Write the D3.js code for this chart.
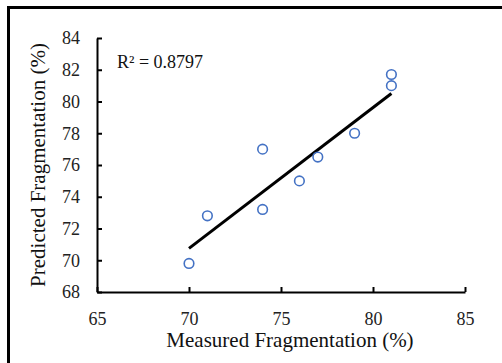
<!DOCTYPE html>
<html>
<head>
<meta charset="utf-8">
<script src="https://cdn.jsdelivr.net/npm/d3@7"></script>
<style>
  body { margin: 0; background: #fff; }
  svg { display: block; }
  text { font-family: "Liberation Serif", "Times New Roman", serif; fill: #111; }
</style>
</head>
<body>
<div id="chart"></div>
<script>
// measured vs predicted fragmentation (%)
let measured = [70, 71, 74, 74, 76, 77, 79, 81, 81];
let predicted = [69.8, 72.8, 73.2, 77.0, 75.0, 76.5, 78.0, 81.0, 81.7];
// linear trendline end points
let trendX = [70, 81];
let trendY = [70.75, 80.5];
let xTicks = [65, 70, 75, 80, 85];
let yTicks = [68, 70, 72, 74, 76, 78, 80, 82, 84];
let r2Label = "R\u00B2 = 0.8797";

let svgWidth = 502;
let svgHeight = 363;

let margin = { top: 38, right: 37, bottom: 71, left: 97 };
let width = svgWidth - margin.left - margin.right;
let height = svgHeight - margin.top - margin.bottom;

let svg = d3.select("#chart").append("svg")
    .attr("width", svgWidth)
    .attr("height", svgHeight);

// frame (only top and left edges are visible in the crop)
svg.append("rect")
    .attr("x", 8.5)
    .attr("y", 7.5)
    .attr("width", 600)
    .attr("height", 600)
    .attr("fill", "none")
    .attr("stroke", "#000")
    .attr("stroke-width", 3);

let chartGroup = svg.append("g")
    .attr("transform", `translate(${margin.left}, ${margin.top})`);

let data = measured.map((m, i) => ({ x: m, y: predicted[i] }));

let xScale = d3.scaleLinear().domain([65, 85]).range([0, width]);
let yScale = d3.scaleLinear().domain([68, 84]).range([height, 0]);

let xAxis = d3.axisBottom(xScale).tickValues(xTicks).tickSizeInner(-5).tickSizeOuter(0).tickPadding(20);
let yAxis = d3.axisLeft(yScale).tickValues(yTicks).tickSizeInner(-5).tickSizeOuter(0).tickPadding(17);

let gx = chartGroup.append("g")
    .attr("transform", `translate(0, ${height})`)
    .call(xAxis);
let gy = chartGroup.append("g").call(yAxis);

[gx, gy].forEach(g => {
    g.attr("font-family", null);
    g.selectAll("path, line").attr("stroke", "#000").attr("stroke-width", 2);
    g.selectAll("text")
        .style("font-family", "'Liberation Serif', serif")
        .style("font-size", "18px")
        .style("fill", "#222");
});

// trendline
chartGroup.append("line")
    .attr("x1", xScale(trendX[0]))
    .attr("y1", yScale(trendY[0]))
    .attr("x2", xScale(trendX[1]))
    .attr("y2", yScale(trendY[1]))
    .attr("stroke", "#000")
    .attr("stroke-width", 3);

chartGroup.selectAll("circle")
    .data(data)
    .enter()
    .append("circle")
    .attr("cx", d => xScale(d.x))
    .attr("cy", d => yScale(d.y))
    .attr("r", 4.8)
    .attr("fill", "none")
    .attr("stroke", "#4472C4")
    .attr("stroke-width", 1.6);

chartGroup.append("text")
    .attr("x", 20)
    .attr("y", 30)
    .attr("font-size", "18px")
    .text(r2Label);

// axis titles
chartGroup.append("text")
    .attr("x", 193)
    .attr("y", height + 55)
    .attr("text-anchor", "middle")
    .attr("font-size", "21px")
    .text("Measured Fragmentation (%)");

chartGroup.append("text")
    .attr("transform", "rotate(-90)")
    .attr("x", -height / 2)
    .attr("y", -52)
    .attr("text-anchor", "middle")
    .attr("font-size", "21px")
    .text("Predicted Fragmentation (%)");
</script>
</body>
</html>
